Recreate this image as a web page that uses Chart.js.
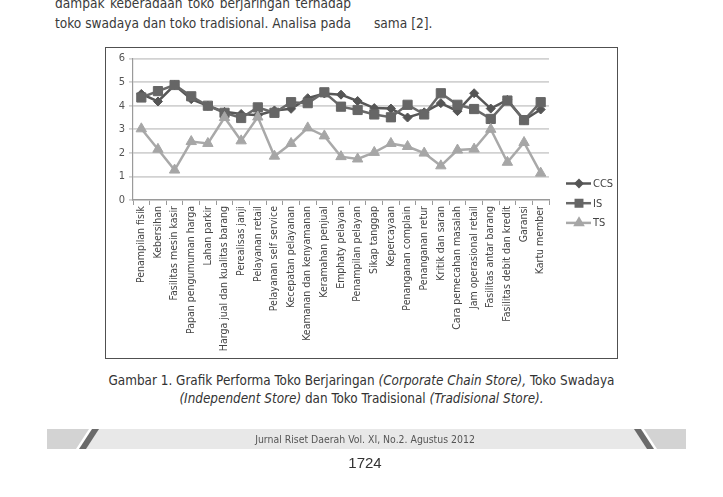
<!DOCTYPE html>
<html>
<head>
<meta charset="utf-8">
<script src="https://cdn.jsdelivr.net/npm/chart.js@4.4.0/dist/chart.umd.min.js"></script>
<style>
  html, body { margin: 0; padding: 0; background: #fff; }
  body {
    width: 723px; height: 497px; position: relative; overflow: hidden;
    font-family: "Liberation Sans Narrow", "DejaVu Sans Condensed", sans-serif;
    color: #3a3a3a;
  }
  .line { position: absolute; font-size: 13.6px; line-height: 20px; white-space: nowrap; }
  .just { display: flex; justify-content: space-between; }
  #chartBox {
    position: absolute; left: 105px; top: 47px; width: 511px; height: 310px;
    border: 1.5px solid #505050;
  }
  #chartBox canvas { position: absolute; left: 0; top: 0; }
  .caption { position: absolute; left: 0; width: 723px; text-align: center; font-size: 13.4px; line-height: 18px; color: #333; }
  .footer-text { position: absolute; left: 0; width: 730px; top: 431px; text-align: center; font-size: 10.4px; line-height: 16px; color: #555; }
  .page-no { position: absolute; left: 0; width: 730px; top: 453px; text-align: center; font-family: "Liberation Sans", sans-serif; font-size: 15px; line-height: 20px; color: #333; }
  svg { position: absolute; left: 0; top: 0; }
</style>
</head>
<body>

<div class="line just" style="left:55px; top:-7px; width:296px;">dampak keberadaan toko berjaringan terhadap</div>
<div class="line just" style="left:55px; top:13px; width:296px;">toko swadaya dan toko tradisional. Analisa pada</div>
<div class="line" style="left:374px; top:13px;">sama [2].</div>

<div id="chartBox"><canvas id="perfChart" width="511" height="310"></canvas></div>

<div class="caption" style="top:372px;">Gambar 1. Grafik Performa Toko Berjaringan <i>(Corporate Chain Store),</i> Toko Swadaya</div>
<div class="caption" style="top:390px;"><i>(Independent Store)</i> dan Toko Tradisional <i>(Tradisional Store).</i></div>

<svg width="723" height="497">
  <polygon points="47,429 89,429 76,449 47,449" fill="#d3d3d3"/>
  <polygon points="97,429 637,429 650,449 84,449" fill="#e8e8e8"/>
  <polygon points="92,429 99,429 86,449 79,449" fill="#6a6a6a"/>
  <polygon points="634,429 641,429 654,449 647,449" fill="#6a6a6a"/>
  <polygon points="644,429 686,429 686,449 657,449" fill="#d3d3d3"/>
</svg>
<div class="footer-text">Jurnal Riset Daerah Vol. XI, No.2. Agustus 2012</div>
<div class="page-no">1724</div>

<script>
// --- data ---
const categories = [
  'Penampilan fisik', 'Kebersihan', 'Fasilitas mesin kasir', 'Papan pengumuman harga',
  'Lahan parkir', 'Harga jual dan kualitas barang', 'Perealisas janji', 'Pelayanan retail',
  'Pelayanan self service', 'Kecepatan pelayanan', 'Keamanan dan kenyamanan', 'Keramahan penjual',
  'Emphaty pelayan', 'Penampilan pelayan', 'Sikap tanggap', 'Kepercayaan',
  'Penanganan complain', 'Penanganan retur', 'Kritik dan saran', 'Cara pemecahan masalah',
  'Jam operasional retail', 'Fasilitas antar barang', 'Fasilitas debit dan kredit', 'Garansi',
  'Kartu member'
];
const seriesNames = ['CCS', 'IS', 'TS'];
const ccsValues = [4.5, 4.18, 4.88, 4.28, 4.0, 3.74, 3.65, 3.6, 3.8, 3.87, 4.32, 4.52, 4.47,
  4.2, 3.9, 3.88, 3.5, 3.72, 4.11, 3.77, 4.53, 3.88, 4.25, 3.39, 3.84];
const isValues = [4.35, 4.62, 4.88, 4.4, 4.0, 3.7, 3.48, 3.93, 3.7, 4.15, 4.11, 4.57, 3.96,
  3.82, 3.63, 3.51, 4.04, 3.63, 4.53, 4.04, 3.86, 3.44, 4.22, 3.39, 4.15];
const tsValues = [3.02, 2.15, 1.27, 2.48, 2.4, 3.5, 2.51, 3.52, 1.86, 2.4, 3.06, 2.72, 1.84,
  1.74, 2.02, 2.4, 2.27, 1.99, 1.45, 2.12, 2.16, 3.0, 1.6, 2.44, 1.14];
const yTicks = [0, 1, 2, 3, 4, 5, 6];

// justified text lines: one span per word, spread with flex
document.querySelectorAll('.just').forEach(el => {
  const words = el.textContent.trim().split(/\s+/);
  el.innerHTML = words.map(w => `<span>${w}</span>`).join('');
});

const axisFont = { family: '"Liberation Sans Narrow", "DejaVu Sans Condensed", sans-serif', size: 10.5 };

// legend on the right: line sample + marker + name
const sideLegend = {
  id: 'sideLegend',
  afterDraw(chart) {
    const ctx = chart.ctx;
    chart.data.datasets.forEach((ds, i) => {
      const y = 135.5 + i * 19.7;
      ctx.save();
      ctx.strokeStyle = ds.borderColor;
      ctx.lineWidth = 2.5;
      ctx.beginPath();
      ctx.moveTo(460, y);
      ctx.lineTo(485, y);
      ctx.stroke();
      ctx.fillStyle = ds.pointBackgroundColor;
      ctx.strokeStyle = ds.pointBackgroundColor;
      Chart.helpers.drawPoint(ctx, {
        pointStyle: ds.pointStyle, radius: ds.pointRadius * 0.7, rotation: 0, borderWidth: 1
      }, 473, y);
      ctx.fillStyle = '#444';
      ctx.font = '11px ' + axisFont.family;
      ctx.textBaseline = 'middle';
      ctx.textAlign = 'left';
      ctx.fillText(ds.label, 487, y + 0.5);
      ctx.restore();
    });
  }
};

new Chart(document.getElementById('perfChart'), {
  type: 'line',
  data: {
    labels: categories,
    datasets: [
      {
        label: seriesNames[0], data: ccsValues, order: 3,
        borderColor: '#575757', borderWidth: 2.5, tension: 0,
        pointStyle: 'rectRot', pointRadius: 4.5,
        pointBackgroundColor: '#555', pointBorderColor: '#555', pointBorderWidth: 1
      },
      {
        label: seriesNames[1], data: isValues, order: 2,
        borderColor: '#696969', borderWidth: 2.5, tension: 0,
        pointStyle: 'rect', pointRadius: 6.5,
        pointBackgroundColor: '#666', pointBorderColor: '#666', pointBorderWidth: 1
      },
      {
        label: seriesNames[2], data: tsValues, order: 1,
        borderColor: '#a9a9a9', borderWidth: 2.5, tension: 0,
        pointStyle: 'triangle', pointRadius: 6,
        pointBackgroundColor: '#a6a6a6', pointBorderColor: '#a6a6a6', pointBorderWidth: 1
      }
    ]
  },
  options: {
    responsive: false,
    animation: false,
    layout: { padding: { top: 9, right: 68, left: 0, bottom: 0 } },
    plugins: { legend: { display: false }, tooltip: { enabled: false } },
    scales: {
      x: {
        type: 'category',
        offset: true,
        afterFit: (s) => { s.height = 158; },
        grid: { drawOnChartArea: false, offset: true, tickLength: 5, color: '#9a9a9a', lineWidth: 1 },
        border: { display: true, color: '#9a9a9a', width: 1.2 },
        ticks: { autoSkip: false, maxRotation: 90, minRotation: 90, padding: 1, color: '#454545', font: axisFont }
      },
      y: {
        min: 0, max: 6,
        afterFit: (s) => { s.width = 27; },
        afterBuildTicks: (s) => { s.ticks = yTicks.map(v => ({ value: v })); },
        grid: { color: '#d2d2d2', lineWidth: 1.7, tickLength: 4 },
        border: { display: true, color: '#9a9a9a', width: 1.2 },
        ticks: { padding: 4, color: '#555', font: { family: axisFont.family, size: 11 } }
      }
    }
  },
  plugins: [sideLegend]
});
</script>
</body>
</html>
